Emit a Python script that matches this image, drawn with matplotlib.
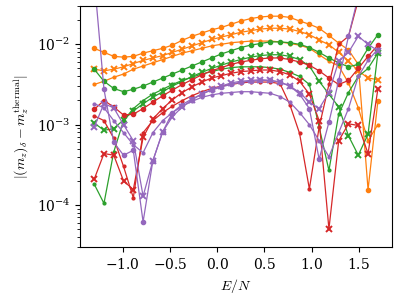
import numpy as np
import matplotlib
matplotlib.use("Agg")
import matplotlib.pyplot as plt

plt.rcParams['mathtext.fontset'] = 'cm'
plt.rcParams['font.family'] = 'serif'
plt.rcParams['font.serif'] = ['DejaVu Serif']
plt.rcParams['axes.formatter.use_mathtext'] = True
plt.rcParams['font.size'] = 10

# energy density grid (30 points)
E = np.linspace(-1.3, 1.7, 30)

# log10 of the deviation
orange_o = [-2.05, -2.10, -2.15, -2.16, -2.15, -2.11, -2.08, -2.05, -2.01, -1.95,
            -1.90, -1.86, -1.82, -1.79, -1.75, -1.71, -1.68, -1.66, -1.65, -1.65,
            -1.665, -1.71, -1.75, -1.80, -1.89, -1.985, -2.07, -2.25, -3.81, -2.71]
orange_x = [-2.31, -2.33, -2.31, -2.28, -2.24, -2.20, -2.17, -2.14, -2.10, -2.06,
            -2.02, -1.98, -1.94, -1.91, -1.88, -1.85, -1.83, -1.81, -1.80, -1.80,
            -1.81, -1.84, -1.88, -1.945, -2.006, -2.10, -2.21, -2.33, -2.42, -2.44]
orange_d = [-2.50, -2.46, -2.41, -2.37, -2.31, -2.27, -2.23, -2.19, -2.15, -2.11,
            -2.08, -2.05, -2.02, -2.00, -1.98, -1.97, -1.96, -1.96, -1.96, -1.97,
            -1.99, -2.01, -2.05, -2.13, -2.21, -2.27, -2.48, -2.79, -3.20, -3.00]

green_o = [-2.31, -2.46, -2.55, -2.59, -2.56, -2.52, -2.47, -2.42, -2.37, -2.32,
           -2.27, -2.22, -2.17, -2.12, -2.08, -2.04, -2.01, -1.99, -1.97, -1.97,
           -1.98, -2.00, -2.04, -2.10, -2.17, -2.23, -2.28, -2.25, -2.05, -1.88]
green_x = [-2.98, -3.07, -3.05, -2.94, -2.83, -2.74, -2.66, -2.59, -2.52, -2.46,
           -2.40, -2.35, -2.30, -2.26, -2.22, -2.19, -2.16, -2.14, -2.13, -2.13,
           -2.15, -2.19, -2.27, -2.46, -2.62, -2.78, -3.14, -3.38, -3.12, -2.11]
green_d = [-3.74, -3.98, -3.34, -2.95, -2.80, -2.70, -2.62, -2.56, -2.50, -2.45,
           -2.41, -2.37, -2.34, -2.31, -2.29, -2.28, -2.28, -2.28, -2.29, -2.31,
           -2.35, -2.40, -2.50, -3.03, -3.57, -2.87, -2.60, -2.40, -2.30, -2.11]

red_o = [-2.81, -2.70, -2.78, -2.88, -2.87, -2.80, -2.72, -2.64, -2.57, -2.50,
         -2.44, -2.38, -2.33, -2.29, -2.25, -2.22, -2.20, -2.18, -2.17, -2.17,
         -2.19, -2.22, -2.26, -2.33, -2.42, -2.50, -2.45, -2.30, -2.15, -2.01]
red_x = [-3.68, -3.36, -3.38, -3.70, -3.81, -3.16, -2.93, -2.80, -2.69, -2.60,
         -2.53, -2.47, -2.42, -2.39, -2.36, -2.34, -2.33, -2.32, -2.32, -2.34,
         -2.38, -2.46, -2.62, -2.95, -4.30, -3.20, -2.99, -3.01, -3.36, -2.56]
red_d = [-2.89, -2.95, -3.17, -3.52, -3.91, -3.10, -2.95, -2.85, -2.77, -2.70,
         -2.64, -2.59, -2.55, -2.52, -2.50, -2.48, -2.47, -2.47, -2.47, -2.49,
         -2.75, -3.11, -3.80, -3.03, -2.50, -2.00, -1.90, -1.45, -1.00, -0.80]

purple_o = [-1.18, -2.56, -3.22, -3.38, -3.32, -4.21, -3.45, -3.09, -2.85, -2.75,
            -2.68, -2.62, -2.57, -2.53, -2.50, -2.47, -2.46, -2.45, -2.45, -2.47,
            -2.52, -2.62, -2.80, -3.43, -2.97, -2.45, -1.90, -1.40, -1.00, -0.80]
purple_x = [-3.03, -2.74, -2.79, -3.00, -3.20, -3.89, -3.45, -3.09, -2.90, -2.78,
            -2.69, -2.62, -2.56, -2.52, -2.48, -2.46, -2.45, -2.44, -2.45, -2.47,
            -2.52, -2.60, -2.72, -2.80, -2.60, -2.21, -2.10, -1.90, -2.00, -2.08]
purple_d = [-2.74, -2.79, -2.95, -3.10, -3.25, -3.35, -3.10, -2.95, -2.85, -2.77,
            -2.71, -2.66, -2.63, -2.61, -2.60, -2.59, -2.59, -2.60, -2.61, -2.65,
            -2.72, -2.85, -3.00, -3.20, -3.40, -3.10, -2.80, -2.40, -2.20, -2.06]

series = [
    ("C1", "o", orange_o), ("C1", "x", orange_x), ("C1", ".", orange_d),
    ("C2", "o", green_o), ("C2", "x", green_x), ("C2", ".", green_d),
    ("C3", "o", red_o), ("C3", "x", red_x), ("C3", ".", red_d),
    ("C4", "o", purple_o), ("C4", "x", purple_x), ("C4", ".", purple_d),
]

fig = plt.figure(figsize=(3.99, 2.99), dpi=100)
ax = fig.add_axes([0.2005, 0.174, 0.782, 0.806])

for color, marker, logvals in series:
    vals = 10.0 ** np.array(logvals)
    if marker == "x":
        ax.plot(E, vals, color=color, marker="x", ms=4, mew=1.4, lw=0.9)
    elif marker == "o":
        ax.plot(E, vals, color=color, marker="o", ms=3, lw=0.9)
    else:
        ax.plot(E, vals, color=color, marker=".", ms=4, lw=0.9)

ax.set_yscale("log")
ax.set_ylim(3e-5, 3e-2)
ax.set_xticks([-1.0, -0.5, 0.0, 0.5, 1.0, 1.5])
ax.set_xlabel(r"$E/N$")
ax.set_ylabel(r"$|(m_z)_\delta - m_z^{\mathrm{thermal}}|$")

fig.savefig("out.png", dpi=100)
